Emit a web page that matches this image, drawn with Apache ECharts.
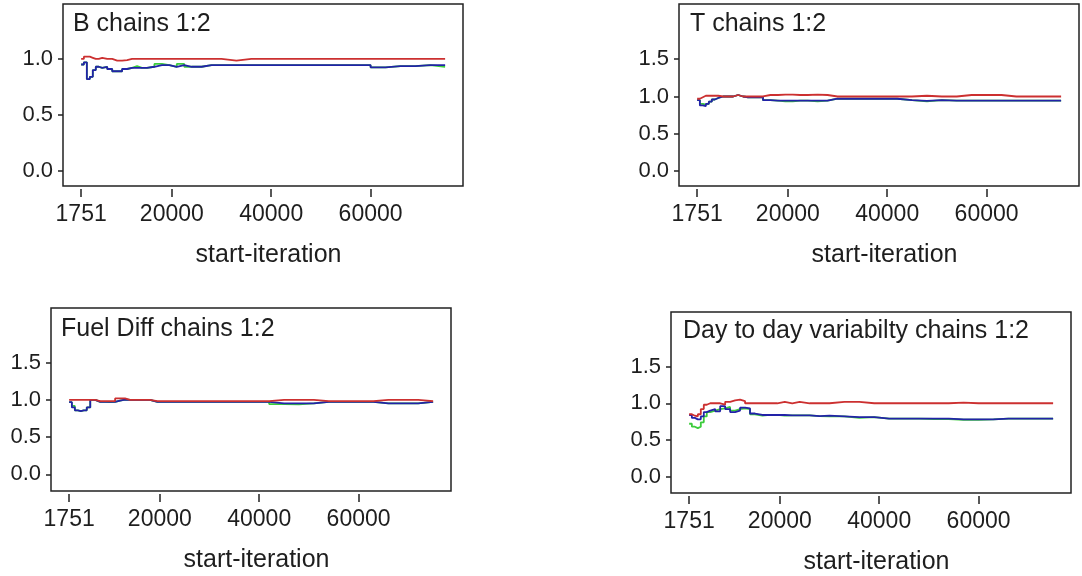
<!DOCTYPE html>
<html>
<head>
<meta charset="utf-8">
<script src="https://cdn.jsdelivr.net/npm/echarts@6/dist/echarts.min.js"></script>
<style>
html,body{margin:0;padding:0;background:#fff;}
#chart{width:1082px;height:576px;}
</style>
</head>
<body>
<div id="chart"></div>
<script>
// ---- data ----
const startIter = [1751, 2300, 2900, 3500, 4100, 4700, 5300, 6000, 7000, 8000, 9000, 10000, 11000, 12000, 13000, 14000, 15000, 16500, 18000, 19500, 21000, 22500, 24000, 26000, 28000, 30000, 33000, 36000, 39000, 42000, 45000, 48000, 51000, 54000, 57000, 60000, 63000, 66000, 69000, 72000, 75000];
const xTicks = [1751, 20000, 40000, 60000];
const yTicksB = [0, 0.5, 1.0];
const yTicksOther = [0, 0.5, 1.0, 1.5];
const panelTitles = ["B chains 1:2", "T chains 1:2", "Fuel Diff chains 1:2", "Day to day variabilty chains 1:2"];
const xAxisName = "start-iteration";

const bRed   = [1.00, 1.02, 1.02, 1.01, 1.00, 1.00, 1.01, 1.00, 1.00, 0.985, 0.985, 0.99, 1.00, 1.00, 1.00, 1.00, 1.00, 1.00, 1.00, 1.00, 1.00, 1.00, 1.00, 1.00, 1.00, 0.985, 1.00, 1.00, 1.00, 1.00, 1.00, 1.00, 1.00, 1.00, 1.00, 1.00, 1.00, 1.00, 1.00, 1.00, 1.00];
const bBlue  = [0.95, 0.97, 0.82, 0.84, 0.90, 0.93, 0.92, 0.93, 0.91, 0.89, 0.89, 0.91, 0.92, 0.92, 0.92, 0.92, 0.93, 0.945, 0.945, 0.93, 0.945, 0.93, 0.93, 0.945, 0.945, 0.945, 0.945, 0.945, 0.945, 0.945, 0.945, 0.945, 0.945, 0.945, 0.945, 0.925, 0.935, 0.935, 0.945, 0.945, 0.945];
const bGreen = [0.95, 0.97, 0.82, 0.84, 0.90, 0.93, 0.92, 0.93, 0.91, 0.89, 0.89, 0.91, 0.92, 0.935, 0.92, 0.92, 0.93, 0.955, 0.945, 0.93, 0.955, 0.93, 0.93, 0.945, 0.945, 0.945, 0.945, 0.945, 0.945, 0.945, 0.945, 0.945, 0.945, 0.945, 0.945, 0.925, 0.935, 0.935, 0.945, 0.93, 0.93];

const tRed   = [0.97, 0.99, 1.01, 1.01, 1.01, 1.01, 1.01, 1.00, 1.00, 1.00, 1.02, 1.00, 1.00, 1.00, 1.00, 1.00, 1.02, 1.02, 1.025, 1.025, 1.02, 1.02, 1.025, 1.02, 1.00, 1.00, 1.00, 1.00, 1.00, 1.00, 1.01, 1.00, 1.00, 1.02, 1.02, 1.02, 1.00, 1.00, 1.00, 1.00, 1.00];
const tBlue  = [0.95, 0.88, 0.87, 0.90, 0.93, 0.96, 0.98, 1.00, 1.00, 1.00, 1.02, 1.00, 0.99, 0.99, 0.99, 0.99, 0.95, 0.945, 0.945, 0.945, 0.945, 0.945, 0.945, 0.945, 0.97, 0.97, 0.97, 0.97, 0.97, 0.95, 0.94, 0.95, 0.945, 0.945, 0.945, 0.945, 0.945, 0.945, 0.945, 0.945, 0.945];
const tGreen = [0.95, 0.90, 0.89, 0.90, 0.93, 0.96, 0.98, 1.00, 1.00, 1.00, 1.02, 1.00, 0.99, 0.99, 0.99, 0.99, 0.95, 0.945, 0.935, 0.935, 0.945, 0.945, 0.935, 0.945, 0.97, 0.97, 0.97, 0.97, 0.97, 0.95, 0.935, 0.95, 0.945, 0.945, 0.945, 0.945, 0.945, 0.945, 0.945, 0.945, 0.945];

const fRed   = [1.00, 1.00, 1.00, 1.00, 1.00, 1.00, 1.00, 1.00, 0.985, 0.985, 0.985, 0.985, 1.02, 1.02, 1.00, 1.00, 1.00, 1.00, 0.985, 0.985, 0.985, 0.985, 0.985, 0.985, 0.985, 0.985, 0.985, 0.985, 0.985, 1.00, 1.00, 1.00, 0.985, 0.985, 0.985, 0.985, 1.00, 1.00, 1.00, 0.985, 0.985];
const fBlue  = [0.97, 0.90, 0.86, 0.85, 0.86, 0.86, 0.90, 1.00, 0.975, 0.975, 0.975, 0.975, 0.99, 1.005, 1.00, 1.00, 1.00, 1.00, 0.975, 0.975, 0.975, 0.975, 0.975, 0.975, 0.975, 0.975, 0.975, 0.975, 0.975, 0.955, 0.955, 0.955, 0.975, 0.975, 0.975, 0.975, 0.955, 0.955, 0.955, 0.975, 0.975];
const fGreen = [0.97, 0.92, 0.86, 0.85, 0.86, 0.86, 0.90, 1.00, 0.975, 0.975, 0.97, 0.975, 0.99, 1.005, 1.00, 1.00, 1.00, 1.00, 0.975, 0.975, 0.975, 0.975, 0.975, 0.975, 0.975, 0.975, 0.975, 0.975, 0.975, 0.945, 0.94, 0.955, 0.975, 0.975, 0.975, 0.975, 0.955, 0.955, 0.955, 0.975, 0.975];

const dRed   = [0.85, 0.83, 0.82, 0.85, 0.92, 0.98, 1.00, 1.00, 1.00, 0.98, 1.02, 1.04, 1.05, 1.03, 1.00, 1.00, 1.00, 1.00, 1.00, 1.02, 1.00, 1.02, 1.00, 1.00, 1.00, 1.02, 1.02, 1.00, 1.00, 1.00, 1.00, 1.00, 1.00, 1.01, 1.00, 1.00, 1.00, 1.00, 1.00, 1.00, 1.00];
const dBlue  = [0.84, 0.80, 0.78, 0.78, 0.82, 0.88, 0.90, 0.92, 0.89, 0.96, 0.92, 0.88, 0.90, 0.94, 0.93, 0.86, 0.84, 0.84, 0.84, 0.84, 0.835, 0.835, 0.835, 0.825, 0.83, 0.82, 0.81, 0.81, 0.79, 0.79, 0.79, 0.79, 0.79, 0.78, 0.78, 0.78, 0.79, 0.79, 0.79, 0.79, 0.79];
const dGreen = [0.72, 0.68, 0.66, 0.68, 0.74, 0.82, 0.88, 0.90, 0.92, 0.93, 0.95, 0.90, 0.92, 0.93, 0.92, 0.85, 0.83, 0.84, 0.84, 0.83, 0.835, 0.835, 0.835, 0.825, 0.82, 0.82, 0.80, 0.81, 0.79, 0.79, 0.79, 0.785, 0.785, 0.775, 0.775, 0.78, 0.79, 0.79, 0.79, 0.79, 0.79];

// ---- layout / style ----
const FONT = '"Liberation Sans", Arial, sans-serif';
const TXT = '#1e1e1e';
const COLORS = {green: '#3ccc3c', blue: '#2222a8', red: '#cc3030'};
const panels = [
  {left: 63,  top: 4,   w: 400, h: 182, ymin: -0.134, ymax: 1.49, yt: yTicksB, series: [bGreen, bBlue, bRed], tx: 73,  ty: 12},
  {left: 679, top: 4,   w: 400, h: 182, ymin: -0.2,   ymax: 2.24, yt: yTicksOther, series: [tGreen, tBlue, tRed], tx: 690, ty: 12},
  {left: 51,  top: 308, w: 400, h: 183, ymin: -0.225, ymax: 2.237, yt: yTicksOther, series: [fGreen, fBlue, fRed], tx: 61,  ty: 317},
  {left: 671, top: 312, w: 400, h: 183, ymin: -0.226, ymax: 2.247, yt: yTicksOther, series: [dGreen, dBlue, dRed], tx: 683, ty: 319}
];
const XMIN = -1900, XMAX = 78600;

const grid = [], xAxis = [], yAxis = [], series = [], title = [];
panels.forEach((p, i) => {
  grid.push({left: p.left, top: p.top, width: p.w, height: p.h, show: true,
    borderColor: '#222', borderWidth: 1.5, backgroundColor: '#fff', containLabel: false});
  title.push({text: panelTitles[i], left: p.tx, top: p.ty, padding: 0,
    textStyle: {fontFamily: FONT, fontSize: 25, fontWeight: 'normal', color: TXT}});
  xAxis.push({type: 'value', gridIndex: i, min: XMIN, max: XMAX, offset: 3, position: 'bottom',
    name: xAxisName, nameLocation: 'middle', nameGap: 54,
    nameTextStyle: {fontFamily: FONT, fontSize: 25, color: TXT, padding: [0, 0, 0, 11]},
    axisLine: {show: false, onZero: false},
    axisTick: {show: true, length: 8, inside: false, customValues: xTicks, lineStyle: {color: '#222', width: 1.5}},
    axisLabel: {customValues: xTicks, fontFamily: FONT, fontSize: 23, color: TXT, margin: 14,
      formatter: v => String(v)},
    splitLine: {show: false}});
  yAxis.push({type: 'value', gridIndex: i, min: p.ymin, max: p.ymax, position: 'left',
    axisLine: {show: false, onZero: false},
    axisTick: {show: true, length: 5, inside: false, customValues: p.yt, lineStyle: {color: '#222', width: 1.5}},
    axisLabel: {customValues: p.yt, fontFamily: FONT, fontSize: 22, color: TXT, margin: 10,
      formatter: v => Number(v).toFixed(1)},
    splitLine: {show: false}});
  const cols = [COLORS.green, COLORS.blue, COLORS.red];
  p.series.forEach((vals, k) => {
    series.push({type: 'line', xAxisIndex: i, yAxisIndex: i, step: 'end', symbol: 'none',
      silent: true, z: 2 + k,
      lineStyle: {color: cols[k], width: 1.8},
      data: startIter.map((x, j) => [x, vals[j]])});
  });
});

const chart = echarts.init(document.getElementById('chart'), null, {renderer: 'canvas'});
chart.setOption({animation: false, backgroundColor: '#fff', title, grid, xAxis, yAxis, series});
</script>
</body>
</html>
